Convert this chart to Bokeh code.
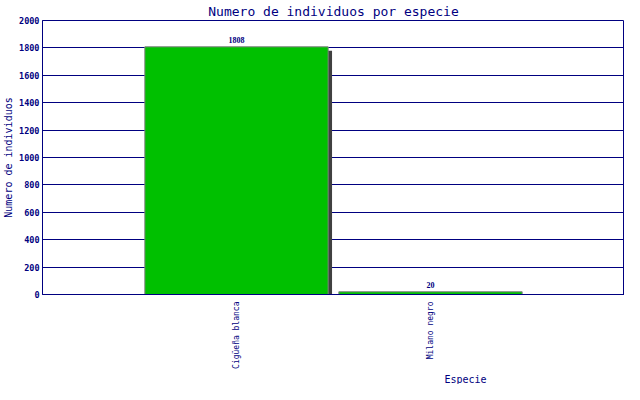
import math
from bokeh.plotting import figure
from bokeh.models import ColumnDataSource, FixedTicker, Range1d, Title, LabelSet
from bokeh.embed import file_html
from bokeh.resources import INLINE

species = ["Cigüeña blanca", "Milano negro"]
counts = [1808, 20]
positions = [1, 2]
y_ticks = [0, 200, 400, 600, 800, 1000, 1200, 1400, 1600, 1800, 2000]

NAVY = "#000080"
MONO = "DejaVu Sans Mono"

src = ColumnDataSource(dict(
    x=positions,
    top=counts,
    label=[str(c) for c in counts],
    sx=[p + 0.02 for p in positions],
    stop=[c - 28 for c in counts],
))

p = figure(width=624, height=384, output_backend="svg", toolbar_location=None,
           x_range=Range1d(0, 3), y_range=Range1d(0, 2000),
           min_border_left=30, min_border_right=0, min_border_top=12, min_border_bottom=10)

p.title.text = "Numero de individuos por especie"
p.title.align = "center"
p.title.text_color = NAVY
p.title.text_font = MONO
p.title.text_font_size = "13px"
p.title.text_font_style = "normal"
p.title.standoff = 3

# shadow
p.vbar(x="sx", top="stop", bottom=-40, width=0.945, source=src,
       fill_color="#404040", line_color=None)
# bars
p.vbar(x="x", top="top", width=0.945, source=src,
       fill_color="#00C000", line_color="#808080", line_width=1)

labels = LabelSet(x="x", y="top", text="label", source=src, y_offset=4,
                  text_align="center", text_baseline="bottom",
                  text_font_size="8px", text_font_style="bold",
                  text_color=NAVY, text_font=MONO)
p.add_layout(labels)

p.outline_line_color = NAVY
p.background_fill_color = "white"
p.border_fill_color = "white"

p.xgrid.visible = False
p.ygrid.grid_line_color = NAVY
p.ygrid.ticker = FixedTicker(ticks=y_ticks)

p.yaxis.ticker = FixedTicker(ticks=y_ticks)
p.yaxis.axis_label = "Numero de individuos"
p.yaxis.axis_label_text_font = MONO
p.yaxis.axis_label_text_font_size = "10px"
p.yaxis.axis_label_text_font_style = "normal"
p.yaxis.axis_label_text_color = NAVY
p.yaxis.axis_label_standoff = 2
p.yaxis.major_label_text_font = MONO
p.yaxis.major_label_text_font_size = "8.5px"
p.yaxis.major_label_text_font_style = "bold"
p.yaxis.major_label_text_color = NAVY
p.yaxis.major_label_standoff = 3

p.xaxis.ticker = FixedTicker(ticks=positions)
p.xaxis.major_label_overrides = {pos: s for pos, s in zip(positions, species)}
p.xaxis.major_label_orientation = math.pi / 2
p.xaxis.major_label_text_font = MONO
p.xaxis.major_label_text_font_size = "8px"
p.xaxis.major_label_text_color = NAVY
p.xaxis.major_label_standoff = 7

for ax in (p.xaxis, p.yaxis):
    ax.axis_line_color = NAVY
    ax.major_tick_line_color = None
    ax.minor_tick_line_color = None
    ax.major_tick_out = 0
    ax.major_tick_in = 0
    ax.minor_tick_out = 0
    ax.minor_tick_in = 0

p.add_layout(Title(text="Especie", align="left", offset=402, text_font=MONO,
                   text_font_size="10px", text_font_style="normal",
                   text_color=NAVY, standoff=0), "below")

open("out.html", "w").write(file_html(p, INLINE))
